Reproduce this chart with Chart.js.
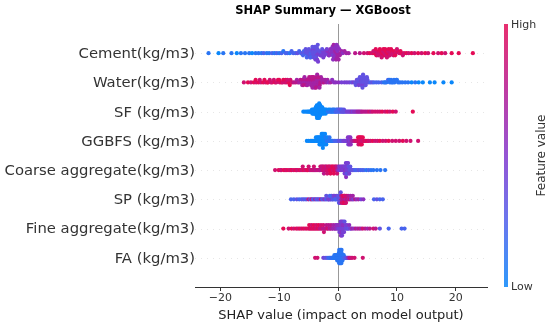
<!DOCTYPE html>
<html><head><meta charset="utf-8">
<script src="https://cdn.jsdelivr.net/npm/chart.js@4/dist/chart.umd.min.js"></script>
<style>html,body{margin:0;padding:0;background:#fff}#wrap{width:550px;height:327px;position:relative}</style>
</head><body><div id="wrap"><canvas id="c" width="550" height="327"></canvas></div>
<script>
const titleText = "SHAP Summary — XGBoost";
const xAxisTitle = "SHAP value (impact on model output)";
const features = ["Cement(kg/m3)","Water(kg/m3)","SF (kg/m3)","GGBFS (kg/m3)","Coarse aggregate(kg/m3)","SP (kg/m3)","Fine aggregate(kg/m3)","FA (kg/m3)"];
const xTicks = [-20,-10,0,10,20];
// each point: [SHAP value, feature value decile 0 (low) .. 9 (high)]
const cementPts = [[-22.0,1],[-20.3,0],[-19.5,1],[-18.1,1],[-17.2,0],[-16.5,1],[-15.8,1],[-15.1,1],[-14.6,0],[-14.0,1],[-13.5,1],[-13.0,1],[-12.6,2],[-12.1,1],[-11.7,1],[-11.2,2],[-10.8,1],[-10.4,2],[-10.0,1],[-9.6,2],[-9.3,1],[-8.9,2],[-8.6,2],[-8.2,1],[-7.9,2],[-7.6,2],[-7.2,2],[-6.9,3],[-6.6,2],[-6.3,2],
[-6.0,3],[-5.8,2],[-5.6,3],[-5.4,3],[-5.2,2],[-5.1,3],[-4.9,3],[-4.8,3],[-4.6,2],[-4.5,3],[-4.4,3],[-4.3,4],[-4.2,3],[-4.1,3],[-4.0,3],[-3.9,4],[-3.8,3],[-3.7,3],[-3.6,4],[-3.5,3],[-3.3,4],[-3.2,3],[-3.0,4],[-2.8,3],[-2.6,4],[-2.4,4],[-2.2,4],[-2.0,4],[-1.8,5],[-1.6,4],[-1.4,5],[-1.2,4],[-1.1,5],[-1.0,5],[-0.9,4],[-0.8,5],[-0.7,5],[-0.6,5],[-0.5,6],[-0.4,5],[-0.3,5],[-0.2,6],[-0.1,5],[0.0,6],[0.2,5],[0.4,6],[0.6,6],[0.8,5],[1.1,6],[1.4,6],[1.8,6],
[2.9,7],[3.7,7],[4.4,8],
[5.0,8],[5.4,9],[5.8,8],[6.1,9],[6.3,8],[6.5,9],[6.7,8],[6.9,9],[7.0,8],[7.2,9],[7.3,8],[7.5,9],[7.6,8],[7.8,9],[7.9,8],[8.1,9],[8.2,8],[8.4,9],[8.5,8],[8.7,9],[8.9,8],[9.1,9],[9.3,8],[9.5,9],[9.8,8],[10.1,9],[10.4,8],[10.8,9],[11.2,8],[11.6,9],[12.0,8],[12.5,9],[13.0,8],[13.6,9],[14.2,8],[14.8,9],[15.3,8],[16.2,9],[17.0,8],[17.6,9],[18.2,8],[19.3,9],[20.5,9],[22.9,9],
[-5.95,2],[-5.5,3],[-5.3,2],[-4.95,3],[-4.75,3],[-4.65,2],[-4.35,3],[-4.15,3],[-3.95,3],[-3.85,4],[-3.75,3],[-3.65,3],[-3.55,4],[-3.45,3],[-3.4,4],[-2.9,4],[-2.7,3],[-2.5,4],[-2.3,4],[-1.9,4],[-1.5,5],[-1.3,5],[-0.95,5],[-0.85,5],[-0.75,6],[-0.65,5],[-0.45,5],[-0.35,6],[-0.25,5],[-0.15,6],[-0.05,5],[0.1,6],[0.3,6],
[6.0,8],[6.4,9],[6.8,8],[7.1,9],[7.4,8],[7.7,9],[8.0,9],[8.3,8],[8.6,9],[8.8,8],[9.0,9],[9.4,8],[9.7,9],[10.0,8],[10.6,9],[11.0,8]];
const waterPts = [[-16.0,8],[-15.3,9],[-14.8,8],[-14.3,9],[-13.9,8],[-13.5,9],[-13.1,8],[-12.7,9],[-12.3,8],[-12.0,9],[-11.9,9],[-11.6,8],[-11.2,9],[-10.9,8],[-10.7,9],[-10.5,8],[-10.2,9],[-9.9,8],[-9.6,9],[-9.4,8],[-9.3,9],[-9.0,8],[-8.9,9],[-8.7,8],[-8.4,9],[-8.1,8],[-7.8,8],
[-7.5,7],[-7.2,7],[-7.0,6],[-6.8,7],[-6.6,6],[-6.4,7],[-6.2,6],[-6.0,7],[-5.8,6],[-5.6,7],[-5.5,6],[-5.3,7],[-5.1,6],[-5.0,7],[-4.8,6],[-4.7,7],[-4.5,6],[-4.4,7],[-4.2,6],[-4.1,6],[-3.9,7],[-3.8,6],[-3.6,6],[-3.5,7],[-3.3,6],[-3.2,6],[-3.0,7],[-2.8,6],[-2.6,6],[-2.4,7],[-2.2,6],[-2.0,6],[-1.8,6],[-1.6,5],[-1.3,6],[-1.0,5],[-0.7,5],[-0.4,5],
[0.1,5],[0.6,4],[1.1,4],
[1.5,4],[1.9,4],[2.3,3],[2.6,4],[2.9,3],[3.2,4],[3.4,3],[3.6,3],[3.8,4],[3.9,3],[4.0,3],[4.1,3],[4.2,4],[4.3,3],[4.5,3],[4.6,4],[4.8,3],[5.0,3],[5.2,3],[5.5,2],[5.8,3],[6.1,2],[6.5,2],[6.9,2],
[7.4,2],[7.8,1],[8.2,1],[8.5,2],[8.8,1],[9.1,1],[9.3,1],[9.6,1],[9.9,1],[10.2,1],[10.5,1],[10.9,1],[11.4,1],[11.9,1],[12.5,0],[13.1,1],[13.7,0],[14.4,0],[15.6,0],[16.4,0],[17.9,0],[19.3,0],
[-6.1,6],[-5.9,7],[-5.7,6],[-5.4,7],[-5.2,6],[-4.9,7],[-4.6,6],[-4.3,7],[-4.0,6],[-3.7,7],[-3.4,6],[-3.1,7],[-2.9,6],[-2.5,6],
[-4.55,7],[-4.35,6],[-4.15,7],[-3.95,6],[-3.75,7],[-3.55,6],[-3.35,7],[-3.15,6],
[-14.0,9],[-13.3,8],[-12.5,9],[-11.4,8],[-10.0,9],[-8.6,8],[-8.2,9],
[3.0,3],[3.3,3],[3.5,4],[3.7,3],[4.05,3],[4.15,3],[4.25,3],[4.4,3],[4.7,3],[4.9,3],
[8.0,1],[8.7,1],[9.0,1],[9.5,1],[10.0,1]];
const sfPts = [[-5.9,0],[-5.6,0],[-5.3,0],[-5.1,0],[-4.9,0],[-4.75,0],[-4.6,0],
[-4.5,0],[-4.43,0],[-4.36,0],[-4.29,0],[-4.22,0],[-4.15,0],[-4.08,0],[-4.01,0],
[-3.96,0],[-3.92,0],[-3.88,0],[-3.84,0],[-3.8,0],[-3.76,0],[-3.72,0],
[-3.68,0],[-3.655,0],[-3.63,0],[-3.605,0],[-3.58,0],[-3.555,0],[-3.53,0],[-3.505,0],[-3.48,0],[-3.455,0],[-3.43,0],[-3.405,0],[-3.38,0],[-3.355,0],[-3.33,0],[-3.305,0],[-3.28,0],[-3.255,0],[-3.23,0],[-3.205,0],[-3.18,0],[-3.155,0],[-3.13,0],[-3.105,0],
[-3.06,0],[-3.02,0],[-2.98,0],[-2.94,0],[-2.9,0],[-2.86,0],[-2.82,0],[-2.78,0],[-2.74,0],
[-2.67,0],[-2.6,0],[-2.53,0],[-2.46,0],[-2.39,0],[-2.32,0],[-2.25,0],[-2.18,0],[-2.11,0],[-2.04,0],
[-1.95,0],[-1.83,0],[-1.71,1],[-1.59,0],[-1.47,1],[-1.35,0],[-1.23,1],[-1.11,1],[-1.0,1],
[-0.9,1],[-0.8,1],[-0.7,1],[-0.6,1],[-0.5,1],[-0.4,2],[-0.3,1],[-0.2,2],[-0.1,2],[0.0,2],[0.1,2],[0.2,2],[0.3,3],[0.4,2],[0.5,3],[0.6,3],[0.7,2],[0.8,3],[0.9,3],[1.0,3],[1.1,3],
[1.3,3],[1.5,4],[1.7,4],[1.9,4],[2.1,4],[2.3,5],[2.5,4],[2.7,5],[2.9,5],[3.1,5],[3.3,6],[3.5,6],[3.7,6],[3.9,6],[4.1,7],[4.4,7],[4.7,7],[5.0,7],[5.3,8],[5.6,7],[5.9,8],[6.3,8],[6.7,8],[7.1,8],[7.5,9],[8.0,8],[8.4,9],[8.8,8],[9.3,9],[9.8,8],[12.7,9]];
const ggbfsPts = [[-5.3,0],[-5.0,0],[-4.7,0],[-4.5,0],[-4.3,0],[-4.15,0],[-4.0,0],[-3.88,0],[-3.76,0],[-3.65,0],[-3.55,0],[-3.46,0],[-3.38,0],[-3.3,0],[-3.23,0],[-3.16,0],[-3.1,0],[-3.04,0],[-2.98,0],[-2.93,0],[-2.88,0],[-2.83,0],[-2.78,0],[-2.74,0],[-2.7,0],[-2.66,0],[-2.62,0],[-2.58,0],[-2.54,0],[-2.5,0],[-2.46,0],[-2.42,0],[-2.37,0],[-2.32,0],[-2.27,0],[-2.21,0],[-2.15,0],[-2.08,1],[-2.0,0],[-1.92,1],[-1.83,0],[-1.72,1],[-1.6,1],[-1.45,1],[-1.3,1],[-1.15,1],[-1.0,1],[-0.85,1],
[-0.6,2],[-0.35,2],[-0.1,2],[0.15,3],[0.4,3],[0.65,3],[0.9,4],[1.1,4],[1.3,4],[1.45,4],
[1.6,4],[1.67,5],[1.74,4],[1.81,5],[1.88,4],[1.95,5],[2.02,4],[2.09,5],[2.16,5],[2.23,5],[2.4,6],[2.55,6],
[2.75,7],[2.95,8],[3.15,8],[3.3,8],[3.4,9],[3.47,8],[3.54,9],[3.61,9],[3.68,8],[3.75,9],[3.82,9],[3.89,8],[3.96,9],[4.03,9],[4.1,8],[4.2,9],[4.35,8],[4.5,9],[4.7,8],[4.95,9],[5.2,8],[5.5,8],
[5.9,9],[6.3,8],[6.7,8],[7.1,9],[7.6,8],[8.1,8],[8.6,9],[9.2,8],[9.8,8],[10.4,8],[11.0,9],[11.6,8],[12.3,8],[13.6,8]];
const coarsePts = [[-10.7,8],[-10.1,9],[-9.8,8],[-9.6,8],[-9.2,9],[-9.0,9],[-8.8,8],[-8.5,9],[-8.2,8],[-8.0,8],[-7.9,9],[-7.6,8],[-7.3,9],[-7.1,9],[-7.0,8],[-6.8,8],[-6.5,9],[-6.3,8],[-6.1,8],[-6.0,8],[-5.8,9],[-5.6,8],[-5.4,8],[-5.2,9],[-5.1,9],[-5.0,8],[-4.8,8],[-4.6,7],[-4.4,8],[-4.2,7],[-4.1,8],[-4.0,8],[-3.8,7],[-3.6,7],[-3.4,8],[-3.2,7],[-3.1,7],
[-3.0,8],[-2.9,7],[-2.8,8],[-2.72,7],[-2.64,7],[-2.56,8],[-2.48,8],[-2.4,7],[-2.32,8],[-2.24,8],[-2.16,7],[-2.08,8],[-2.0,8],[-1.92,7],[-1.84,8],[-1.76,8],[-1.68,9],[-1.6,8],[-1.52,8],[-1.44,9],[-1.36,8],[-1.28,9],[-1.2,9],[-1.12,8],[-1.04,9],[-0.96,9],[-0.88,8],[-0.8,9],[-0.72,9],[-0.64,9],[-0.56,8],[-0.48,9],[-0.4,9],[-0.32,8],[-0.24,7],[-0.16,8],[-0.08,6],[0.0,7],
[0.1,5],[0.2,4],[0.3,4],[0.4,5],[0.5,4],[0.6,4],[0.7,5],[0.78,4],[0.86,4],[0.94,5],[1.0,4],[1.06,4],[1.12,4],[1.18,5],[1.23,4],[1.28,4],[1.32,4],[1.36,5],[1.4,4],[1.44,4],[1.48,3],[1.52,4],[1.56,4],[1.6,4],[1.65,3],[1.7,4],[1.76,4],[1.82,3],[1.9,4],[1.98,3],[2.08,3],[2.2,3],[2.35,3],[2.5,3],[2.7,3],
[2.9,2],[3.2,2],[3.5,3],[3.8,2],[4.1,2],[4.4,2],[4.8,1],[5.2,2],[5.6,1],[6.0,1],[6.6,1],[7.2,1],[8.0,1]];
const spPts = [[-8.0,2],[-7.5,2],[-7.0,3],[-6.6,2],[-6.2,2],[-5.9,3],[-5.6,2],[-5.3,3],[-5.0,7],[-4.7,2],[-4.5,8],[-4.3,3],[-4.1,2],[-3.9,6],[-3.7,3],[-3.5,2],[-3.3,4],[-3.1,3],[-2.9,7],[-2.7,2],[-2.5,3],[-2.3,5],[-2.1,3],[-1.9,2],[-1.7,4],[-1.5,3],[-1.3,2],[-1.2,3],[-1.0,4],[-0.9,2],[-0.7,3],[-0.6,3],[-0.4,2],[-0.3,4],[-0.2,3],[-0.1,2],[0.0,3],[0.1,4],[0.2,3],[0.3,5],[0.4,3],[0.5,4],
[0.6,8],[0.7,6],[0.8,9],[0.9,8],[1.0,7],[1.1,9],[1.2,8],[1.3,6],[1.4,9],[1.5,7],[1.6,8],[1.8,6],[2.0,8],[2.2,5],[2.4,6],[2.6,4],[2.9,7],[3.2,5],[3.5,6],[3.9,4],[4.3,5],[6.1,2],[6.6,3],[7.1,2],[7.6,2],
[-1.1,3],[-0.8,4],[-0.5,2],[0.05,3],[0.15,2],[0.25,3],[0.35,4],[0.45,3],[0.55,7],[0.65,9],[0.75,8],[0.85,9],[0.95,8],[1.05,9],[1.15,8],[1.25,9],[1.35,8],[1.7,7],[-2.0,3],[-1.6,4],[-1.4,2],[2.1,6],[2.5,6]];
const finePts = [[-9.3,9],[-8.4,8],[-7.9,9],[-7.5,8],[-7.1,9],[-6.8,8],[-6.5,9],[-6.2,8],[-5.9,9],[-5.6,8],[-5.3,9],[-5.0,8],[-4.9,9],[-4.8,9],[-4.6,8],[-4.5,8],[-4.4,9],[-4.2,8],[-4.1,9],[-4.0,9],[-3.8,8],[-3.7,8],[-3.6,8],[-3.4,9],[-3.3,9],[-3.2,8],[-3.0,7],[-2.9,8],[-2.8,8],[-2.6,7],[-2.5,8],[-2.4,8],[-2.2,7],[-2.1,7],[-2.0,7],[-1.8,8],[-1.7,8],[-1.6,7],[-1.4,6],[-1.3,7],[-1.2,7],[-1.0,6],[-0.9,6],[-0.8,6],[-0.6,5],[-0.5,6],[-0.4,6],[-0.3,5],
[-0.2,5],[-0.1,5],[0.0,5],[0.08,4],[0.16,5],[0.23,4],[0.3,4],[0.35,5],[0.4,4],[0.44,4],[0.48,5],[0.52,4],[0.56,4],[0.6,5],[0.64,4],[0.68,4],[0.72,4],[0.76,5],[0.8,4],[0.85,4],[0.9,4],[0.96,5],[1.03,4],[1.1,3],[1.2,4],[1.3,4],[1.4,3],[1.5,4],[1.62,4],[1.75,3],[1.9,5],[2.05,4],[2.2,4],
[2.4,6],[2.7,5],[3.0,7],[3.3,6],[3.6,7],[3.9,6],[4.2,8],[4.6,7],[5.0,6],[5.4,7],[6.0,8],[6.4,7],[7.1,3],[8.6,2],[10.8,2],[11.3,2]];
const faPts = [[-3.9,8],[-3.5,8],[-2.5,4],[-2.2,3],[-1.9,3],[-1.7,2],[-1.5,1],[-1.35,2],[-1.2,1],[-1.08,2],[-0.97,1],[-0.87,1],[-0.78,1],[-0.7,1],[-0.62,1],[-0.55,1],[-0.49,1],[-0.43,1],[-0.38,1],[-0.33,1],[-0.28,1],[-0.24,1],[-0.2,1],[-0.17,1],[-0.14,1],[-0.11,1],[-0.08,1],[-0.05,1],[-0.02,1],[0.01,1],[0.04,1],[0.07,1],[0.1,1],
[0.115,1],[0.13,1],[0.145,1],[0.16,1],[0.175,1],[0.19,1],[0.205,1],[0.22,1],[0.235,1],[0.25,1],[0.265,1],[0.28,1],[0.295,1],[0.31,1],[0.325,1],[0.34,1],[0.355,1],[0.37,1],[0.385,1],[0.4,1],[0.415,1],[0.43,1],[0.445,1],[0.46,1],[0.475,1],[0.49,1],[0.505,1],[0.52,1],[0.535,1],[0.55,1],[0.565,1],[0.58,1],[0.595,1],
[0.63,1],[0.66,1],[0.69,1],[0.72,1],[0.75,1],[0.79,1],[0.83,1],[0.87,1],[0.92,2],[0.97,1],[1.03,2],[1.1,1],[1.18,2],[1.27,2],[1.37,3],[1.48,2],[1.6,4],[1.73,5],[1.87,6],[2.02,8],[2.2,7],[2.4,8],[2.8,8],[4.2,8]];
const allPts = [cementPts, waterPts, sfPts, ggbfsPts, coarsePts, spPts, finePts, faPts];

// colour map (shap-like red-blue)
const cmapStops = [[0,[10,135,250]],[0.25,[80,95,235]],[0.5,[130,55,205]],[0.75,[180,25,145]],[1,[228,10,85]]];
function cmap(t){
  for(let i=1;i<cmapStops.length;i++){
    const [t1,c1]=cmapStops[i];const [t0,c0]=cmapStops[i-1];
    if(t<=t1){const f=(t-t0)/(t1-t0);return 'rgb('+c0.map((c,k)=>Math.round(c+(c1[k]-c)*f)).join(',')+')';}
  }
  return 'rgb(228,10,85)';
}
// beeswarm layout (shap style binning)
function swarm(points,row,nbins){
  const xs=points.map(p=>p[0]);
  const mn=Math.min(...xs),mx=Math.max(...xs);
  const q=xs.map(v=>Math.round(nbins*(v-mn)/(mx-mn+1e-8)));
  const inds=xs.map((_,i)=>i).sort((a,b)=>q[a]-q[b]||a-b);
  let layer=0,last=-1;const ys=new Array(xs.length).fill(0);
  for(const i of inds){if(q[i]!==last)layer=0;ys[i]=Math.ceil(layer/2)*((layer%2)*2-1);layer++;last=q[i];}
  const m=Math.max(...ys.map(y=>y+1));
  return points.map((p,i)=>({x:p[0],y:row+ys[i]*0.9*(0.4/m)}));
}
const nF=features.length;
const datasets=allPts.map((pts,k)=>{
  const row=nF-1-k;
  return {label:features[k],data:swarm(pts,row,100),
    pointBackgroundColor:pts.map(p=>cmap(p[1]/9)),pointBorderWidth:0,pointRadius:2.1,pointHoverRadius:2.1};
});
const FONT="'DejaVu Sans', sans-serif";
const deco={id:'deco',
  beforeDraw(ch){const c=ch.ctx;c.save();c.fillStyle='#fff';c.fillRect(0,0,ch.width,ch.height);c.restore();},
  beforeDatasetsDraw(ch){
    const c=ch.ctx,a=ch.chartArea,xs=ch.scales.x,ys=ch.scales.y;
    c.save();
    c.strokeStyle='#cccccc';c.lineWidth=0.5;c.setLineDash([1,5]);
    for(let r=0;r<nF;r++){const y=Math.round(ys.getPixelForValue(r))+0.5;c.beginPath();c.moveTo(a.left,y);c.lineTo(a.right,y);c.stroke();}
    c.setLineDash([]);
    c.strokeStyle='#999999';c.lineWidth=1;const x0=Math.round(xs.getPixelForValue(0))+0.5;
    c.beginPath();c.moveTo(x0,a.top);c.lineTo(x0,a.bottom);c.stroke();
    c.restore();
  },
  afterDraw(ch){
    const c=ch.ctx,a=ch.chartArea,ys=ch.scales.y;
    c.save();
    c.fillStyle='#333333';c.font='14.8px '+FONT;c.textAlign='right';c.textBaseline='middle';
    features.forEach((f,k)=>{c.fillText(f,195,ys.getPixelForValue(nF-1-k)+1);});
    c.fillStyle='#000';c.font='bold 11.5px '+FONT;c.textAlign='center';c.textBaseline='middle';
    c.fillText(titleText,323,11);
    // colour bar
    const bx=504,bw=4,top=a.top,bot=a.bottom;
    const g=c.createLinearGradient(0,bot,0,top);
    for(let i=0;i<=20;i++)g.addColorStop(i/20,cmap(i/20));
    c.globalAlpha=0.85;c.fillStyle=g;c.fillRect(bx,top,bw,bot-top);c.globalAlpha=1;
    c.fillStyle='#333333';c.font='11px '+FONT;c.textAlign='left';c.textBaseline='middle';
    c.fillText('High',bx+bw+3,top+1);c.fillText('Low',bx+bw+3,bot);
    c.translate(542,(top+bot)/2);c.rotate(-Math.PI/2);c.textAlign='center';c.textBaseline='middle';
    c.font='12px '+FONT;c.fillText('Feature value',0,0);
    c.restore();
  }
};
new Chart(document.getElementById('c'),{
  type:'scatter',
  data:{datasets},
  options:{responsive:false,animation:false,devicePixelRatio:1,
    layout:{padding:{left:195,right:63,top:24,bottom:0}},
    plugins:{legend:{display:false},tooltip:{enabled:false},title:{display:false}},
    scales:{
      x:{type:'linear',min:-24.3,max:25.3,position:'bottom',
        afterBuildTicks:s=>{s.ticks=xTicks.map(v=>({value:v}));},
        afterFit:s=>{s.height=40;},
        grid:{display:true,drawOnChartArea:false,drawTicks:true,tickLength:4,color:'#333333',lineWidth:1},
        border:{display:true,color:'#333333',width:1},
        ticks:{font:{family:FONT,size:11},color:'#333333',padding:1,callback:v=>v<0?'\u2212'+Math.abs(v):String(v)},
        title:{display:true,text:xAxisTitle,font:{family:FONT,size:13},color:'#222222',padding:{top:2,bottom:4}}
      },
      y:{type:'linear',min:-1,max:8,display:false}
    }
  },
  plugins:[deco]
});
</script></body></html>
